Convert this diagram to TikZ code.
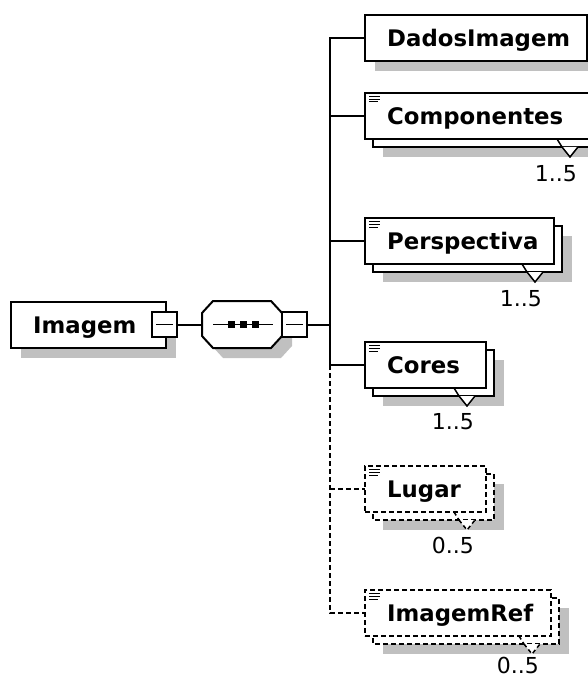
\documentclass[tikz,border=0pt]{standalone}
\usepackage{fontspec}
\setmainfont{DejaVu Sans}
\usetikzlibrary{calc}
\pgfdeclarelayer{shadowlayer}
\pgfdeclarelayer{backlayer}
\pgfsetlayers{shadowlayer,backlayer,main}
\definecolor{shadowc}{RGB}{192,192,192}
\newcommand{\xsdicon}[1]{%
  \draw[line width=1pt] ([shift={(4,3.6)}]#1.north west) -- ++(11,0);
  \draw[line width=1pt] ([shift={(4,6.3)}]#1.north west) -- ++(11,0);
  \draw[line width=1pt] ([shift={(4,9)}]#1.north west) -- ++(9,0);}
\newcommand{\xsdmult}[5]{% node, label text, label name, extra style, label drop
  \draw[line width=1.5pt, fill=white, #4] ([shift={(-27,8)}]#1.south east) -- ([shift={(-19,18)}]#1.south east) -- ([shift={(-11,8)}]#1.south east);
  \draw[line width=1.5pt, #4] ([shift={(-32,0)}]#1.south east) -- ([shift={(-27,8)}]#1.south east);
  \node[multlabel] (#3) at ([shift={(-12,#5)}]#1.south east) {#2};}
\begin{document}
\begin{tikzpicture}[x=1pt, y=-1pt, line join=miter,
  elem/.style={draw=black, fill=white, line width=2pt, inner sep=0pt, outer sep=0pt, minimum height=46pt, anchor=north west},
  optelem/.style={elem, dash pattern=on 5pt off 3pt},
  elemname/.style={font=\fontsize{22.8}{27}\selectfont\bfseries, inner sep=0pt, anchor=base west},
  multlabel/.style={font=\fontsize{22}{26}\selectfont, inner sep=0pt, anchor=base east},
  backbox/.style={draw=black, fill=white, line width=2pt},
  optbackbox/.style={backbox, dash pattern=on 5pt off 3pt},
  conn/.style={line width=2pt},
  optconn/.style={conn, dash pattern=on 5pt off 3pt},
  minusbox/.style={draw=black, fill=white, line width=2pt, minimum width=25pt, minimum height=25pt, inner sep=0pt, outer sep=0pt},
  optdash/.style={dash pattern=on 4pt off 3pt}]
\useasboundingbox (0,0) rectangle (588,679);

% root element
\node[elem, minimum width=155pt] (imagem) at (11,302) {};
\node[elemname] (t-imagem) at ([shift={(22,8.3)}]imagem.west) {Imagem};
\node[minusbox] (imgminus) at (164.5,324.5) {};
\draw[line width=1.5pt] ([xshift=4pt]imgminus.west) -- ([xshift=-4pt]imgminus.east);

% sequence compositor
\node[draw=none, minimum width=80pt, minimum height=47pt, inner sep=0pt, outer sep=0pt, anchor=north west] (seq) at (202,301) {};
\draw[line width=2pt, fill=white]
  ($(seq.north west)+(11,0)$) -- ($(seq.north east)+(-11,0)$) -- ($(seq.north east)+(0,12)$) -- ($(seq.south east)+(0,-12)$) -- ($(seq.south east)+(-11,0)$) -- ($(seq.south west)+(11,0)$) -- ($(seq.south west)+(0,-12)$) -- ($(seq.north west)+(0,12)$) -- cycle;
\draw[line width=1.8pt] ($(seq.west)+(11,0)$) -- ($(seq.east)+(-9,0)$);
\foreach \dx in {-11,1,13} {
  \fill ($(seq.center)+(\dx-3.5,-3.5)$) rectangle ($(seq.center)+(\dx+3.5,3.5)$);
}
\node[minusbox] (seqminus) at (294.5,324.5) {};
\draw[line width=1.5pt] ([xshift=4pt]seqminus.west) -- ([xshift=-4pt]seqminus.east);

% children
\node[elem, minimum width=222pt] (dados) at (365,15) {};
\node[elem, minimum width=224pt] (comp) at (365,93) {};
\node[elem, minimum width=189pt] (persp) at (365,218) {};
\node[elem, minimum width=121pt] (cores) at (365,342) {};
\node[optelem, minimum width=121pt] (lugar) at (365,466) {};
\node[optelem, minimum width=186pt] (imgref) at (365,590) {};

\node[elemname] (t-dados) at ([shift={(22,8.3)}]dados.west) {DadosImagem};
\node[elemname] (t-comp) at ([shift={(22,8.3)}]comp.west) {Componentes};
\node[elemname] (t-persp) at ([shift={(22,8.3)}]persp.west) {Perspectiva};
\node[elemname] (t-cores) at ([shift={(22,8.3)}]cores.west) {Cores};
\node[elemname] (t-lugar) at ([shift={(22,8.3)}]lugar.west) {Lugar};
\node[elemname] (t-imgref) at ([shift={(22,8.3)}]imgref.west) {ImagemRef};

\xsdicon{comp}
\xsdicon{persp}
\xsdicon{cores}
\xsdicon{lugar}
\xsdicon{imgref}

\xsdmult{comp}{1..5}{m-comp}{}{42}
\xsdmult{persp}{1..5}{m-persp}{}{42}
\xsdmult{cores}{1..5}{m-cores}{}{41}
\xsdmult{lugar}{0..5}{m-lugar}{optdash}{41}
\xsdmult{imgref}{0..5}{m-imgref}{optdash}{37.5}

% connectors
\draw[conn] (imgminus.east) -- (seq.west);
\coordinate (bus) at (330,324.5);
\draw[conn] (seqminus.east) -- (bus);
\draw[conn] (dados.west) -- (bus |- dados.west) -- (bus |- cores.west) -- (cores.west);
\draw[conn] (bus |- comp.west) -- (comp.west);
\draw[conn] (bus |- persp.west) -- (persp.west);
\draw[optconn] (bus |- cores.west) -- (bus |- imgref.west) -- (imgref.west);
\draw[optconn] (bus |- lugar.west) -- (lugar.west);

% stacked back boxes
\begin{pgfonlayer}{backlayer}
\draw[backbox] ([shift={(8,8)}]comp.north west) rectangle ([shift={(8,8)}]comp.south east);
\draw[backbox] ([shift={(8,8)}]persp.north west) rectangle ([shift={(8,8)}]persp.south east);
\draw[backbox] ([shift={(8,8)}]cores.north west) rectangle ([shift={(8,8)}]cores.south east);
\draw[optbackbox] ([shift={(8,8)}]lugar.north west) rectangle ([shift={(8,8)}]lugar.south east);
\draw[optbackbox] ([shift={(8,8)}]imgref.north west) rectangle ([shift={(8,8)}]imgref.south east);
\end{pgfonlayer}

% shadows
\begin{pgfonlayer}{shadowlayer}
\fill[shadowc] ([shift={(10,10)}]imagem.north west) rectangle ([shift={(10,10)}]imagem.south east);
\fill[shadowc] ([shift={(10,10)}]dados.north west) rectangle ([shift={(10,10)}]dados.south east);
\foreach \n in {comp,persp,cores,lugar,imgref} {
  \fill[shadowc] ([shift={(18,18)}]\n.north west) rectangle ([shift={(18,18)}]\n.south east);
}
\fill[shadowc]
  ($(seq.north west)+(21,10)$) -- ($(seq.north east)+(-1,10)$) -- ($(seq.north east)+(10,22)$) -- ($(seq.south east)+(10,-2)$) -- ($(seq.south east)+(-1,10)$) -- ($(seq.south west)+(21,10)$) -- ($(seq.south west)+(10,-2)$) -- ($(seq.north west)+(10,22)$) -- cycle;
\end{pgfonlayer}
\end{tikzpicture}
\end{document}
